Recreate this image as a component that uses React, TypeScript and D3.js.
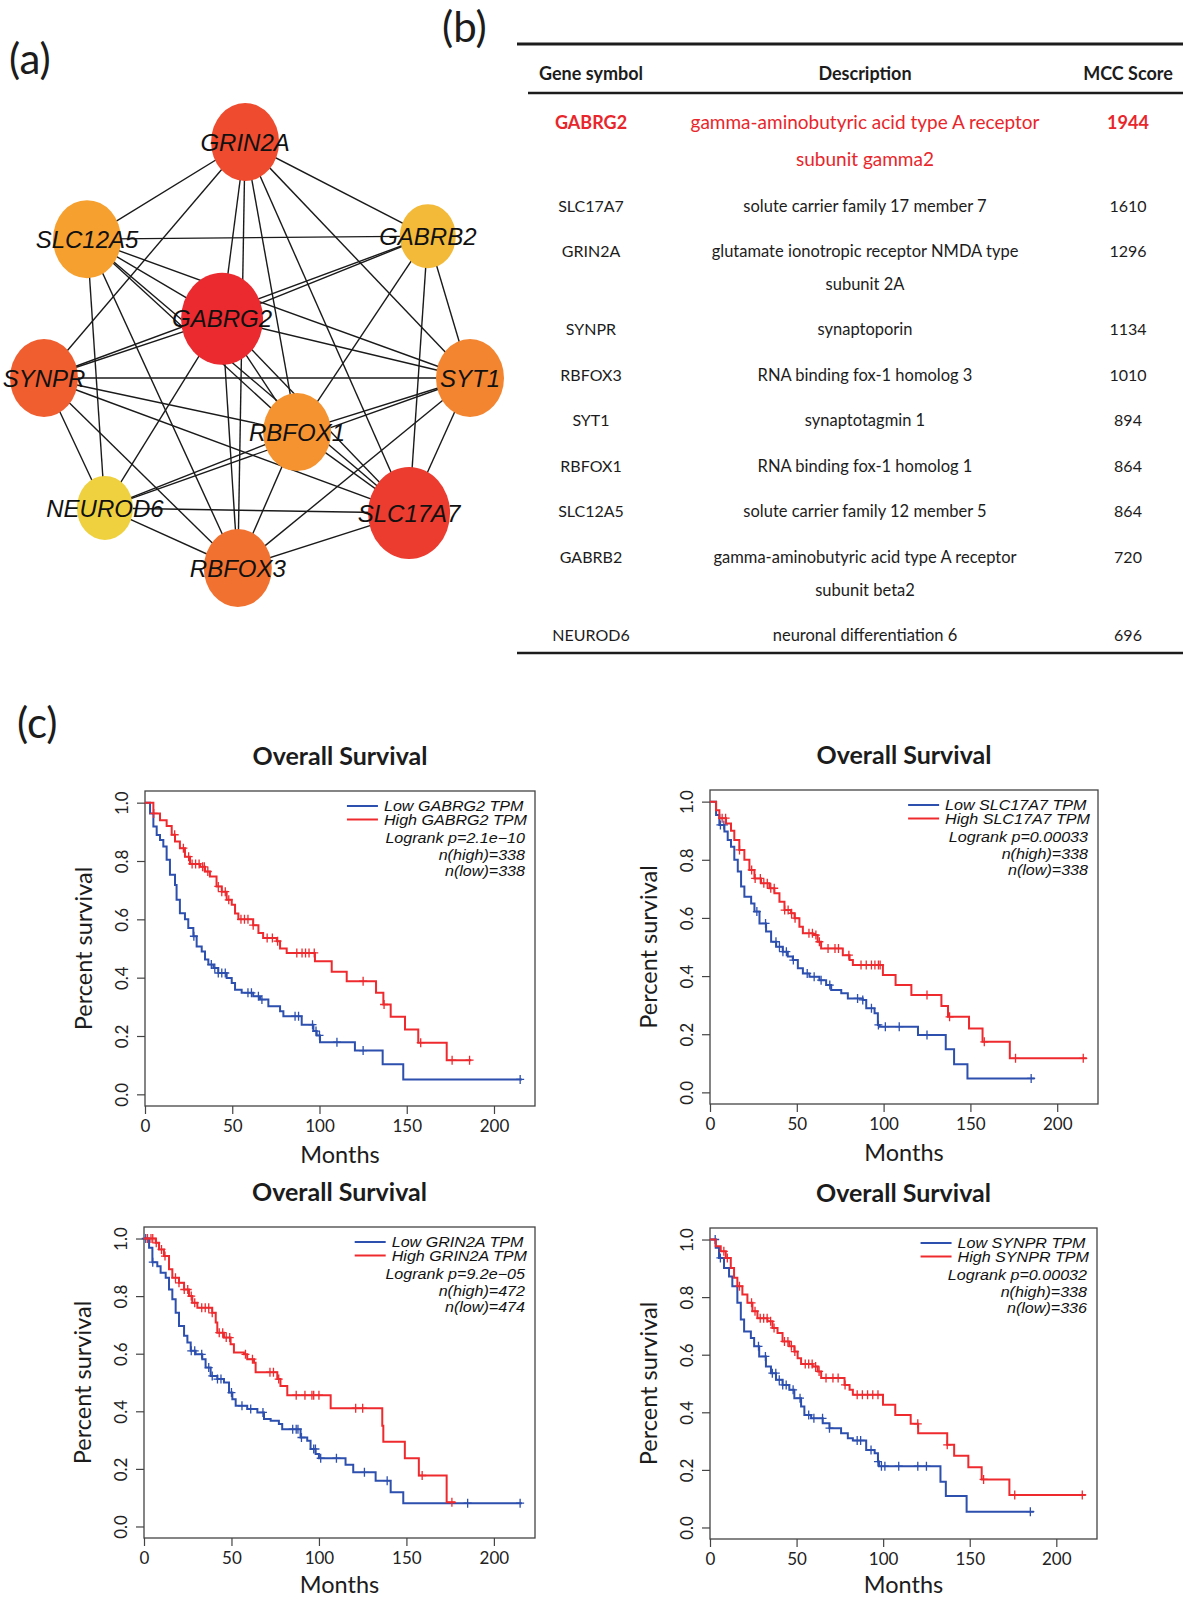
import React, { useEffect, useRef } from "react";
import * as d3 from "d3";

type Step = [number, number];

// ---- (a)/(b) hub genes ----
const GENES = ["GABRG2", "SLC17A7", "GRIN2A", "SYNPR", "RBFOX3", "SYT1", "RBFOX1", "SLC12A5", "GABRB2", "NEUROD6"];
const MCC_SCORES = [1944, 1610, 1296, 1134, 1010, 894, 864, 864, 720, 696];
const DESCRIPTIONS = [
  ["gamma-aminobutyric acid type A receptor", "subunit gamma2"],
  ["solute carrier family 17 member 7"],
  ["glutamate ionotropic receptor NMDA type", "subunit 2A"],
  ["synaptoporin"],
  ["RNA binding fox-1 homolog 3"],
  ["synaptotagmin 1"],
  ["RNA binding fox-1 homolog 1"],
  ["solute carrier family 12 member 5"],
  ["gamma-aminobutyric acid type A receptor", "subunit beta2"],
  ["neuronal differentiation 6"],
];
const TABLE_HEADERS = ["Gene symbol", "Description", "MCC Score"];

const EDGES: [string, string][] = [
  ["GRIN2A", "SLC12A5"], ["GRIN2A", "GABRB2"], ["GRIN2A", "SYNPR"], ["GRIN2A", "GABRG2"],
  ["GRIN2A", "RBFOX3"], ["GRIN2A", "RBFOX1"], ["GRIN2A", "SLC17A7"], ["GRIN2A", "SYT1"],
  ["SLC12A5", "GABRB2"], ["SLC12A5", "GABRG2"], ["SLC12A5", "SYT1"], ["SLC12A5", "RBFOX1"],
  ["SLC12A5", "SLC17A7"], ["SLC12A5", "NEUROD6"], ["SLC12A5", "RBFOX3"],
  ["GABRB2", "GABRG2"], ["GABRB2", "SYNPR"], ["GABRB2", "RBFOX1"], ["GABRB2", "SLC17A7"], ["GABRB2", "SYT1"],
  ["GABRG2", "SYNPR"], ["GABRG2", "SYT1"], ["GABRG2", "NEUROD6"], ["GABRG2", "RBFOX3"],
  ["GABRG2", "RBFOX1"], ["GABRG2", "SLC17A7"],
  ["SYNPR", "SYT1"], ["SYNPR", "RBFOX1"], ["SYNPR", "SLC17A7"], ["SYNPR", "NEUROD6"], ["SYNPR", "RBFOX3"],
  ["RBFOX1", "SYT1"], ["RBFOX1", "NEUROD6"], ["RBFOX1", "SLC17A7"], ["RBFOX1", "RBFOX3"],
  ["SYT1", "RBFOX3"], ["SYT1", "SLC17A7"], ["SYT1", "NEUROD6"],
  ["NEUROD6", "SLC17A7"], ["NEUROD6", "RBFOX3"], ["SLC17A7", "RBFOX3"],
];

// network layout in unit space
const NODE_LAYOUT: Record<string, [number, number]> = {
  GRIN2A: [0.472, 0], SLC12A5: [0.101, 0.228], GABRB2: [0.901, 0.221], GABRG2: [0.418, 0.415],
  SYNPR: [0, 0.554], SYT1: [1, 0.554], RBFOX1: [0.594, 0.681], NEUROD6: [0.143, 0.859],
  SLC17A7: [0.857, 0.871], RBFOX3: [0.455, 1],
};

// ---- (c) Kaplan-Meier curves: [months, survival] ----
const gabrg2Low: Step[] = [[0, 1], [2.9, 0.963], [4.8, 0.918], [6.7, 0.889], [8.6, 0.872], [10.5, 0.85], [12.4, 0.804], [14.3, 0.753], [17.2, 0.718], [18.1, 0.667], [20, 0.621], [22.9, 0.6], [24.8, 0.57], [27.7, 0.542], [29.6, 0.507], [32.5, 0.49], [34.4, 0.462], [36.3, 0.445], [39.2, 0.433], [42, 0.416], [46.8, 0.399], [49.7, 0.382], [51.6, 0.359], [55.4, 0.348], [62, 0.336], [65.9, 0.325], [70.7, 0.302], [77.4, 0.285], [79.3, 0.268], [89.8, 0.239], [96.5, 0.217], [98.4, 0.202], [100.3, 0.179], [120.3, 0.15], [136.2, 0.103], [148, 0.051], [216, 0.051]];
const gabrg2High: Step[] = [[0, 1], [4.8, 0.963], [8.6, 0.94], [12.4, 0.92], [15.3, 0.89], [17.2, 0.867], [20, 0.844], [22.9, 0.815], [25.8, 0.79], [31.5, 0.78], [34.4, 0.764], [37.2, 0.747], [41, 0.713], [44, 0.695], [46.8, 0.667], [49.7, 0.65], [51.6, 0.62], [53.5, 0.6], [62, 0.58], [65, 0.553], [67.7, 0.536], [75.5, 0.525], [77.4, 0.5], [81.2, 0.485], [97.4, 0.456], [107, 0.42], [115.6, 0.388], [132.4, 0.348], [136.6, 0.308], [140.8, 0.266], [149, 0.222], [156.6, 0.177], [172.9, 0.117], [187, 0.117]];
const gabrg2LowCens = [28, 38, 40, 42, 44, 46, 59, 61, 65, 67, 86, 88, 96, 98, 100, 110, 125, 215];
const gabrg2HighCens = [5, 17, 22, 25, 27, 29, 31, 33, 34, 36, 42, 44, 46, 48, 55, 57, 59, 62, 70, 73, 76, 87, 90, 92, 94, 97, 125, 137, 158, 176, 186];

const slc17a7Low: Step[] = [[0, 1], [3.5, 0.954], [5.4, 0.92], [8.3, 0.897], [10.2, 0.868], [12.1, 0.845], [14, 0.8], [16, 0.76], [17.9, 0.708], [19.8, 0.673], [23.7, 0.65], [25.6, 0.622], [28.5, 0.581], [32.3, 0.553], [35.2, 0.518], [38.1, 0.501], [41.9, 0.484], [44.8, 0.467], [47.7, 0.455], [50.6, 0.427], [53.5, 0.409], [57.3, 0.398], [63, 0.386], [66.9, 0.369], [69.8, 0.352], [75.6, 0.341], [79.4, 0.323], [88, 0.318], [90, 0.289], [94.8, 0.272], [96.7, 0.232], [97.7, 0.226], [119.8, 0.197], [135.8, 0.148], [140.6, 0.097], [148.3, 0.048], [187, 0.048]];
const slc17a7High: Step[] = [[0, 1], [3.5, 0.97], [5.4, 0.943], [9.2, 0.925], [12.1, 0.9], [14, 0.868], [16.9, 0.834], [19.8, 0.8], [22.7, 0.765], [25.6, 0.736], [29.4, 0.719], [34.2, 0.702], [37.1, 0.685], [40, 0.656], [42.9, 0.627], [46.7, 0.616], [48.7, 0.599], [51.5, 0.57], [53.5, 0.547], [59.2, 0.541], [62, 0.518], [64, 0.495], [76.5, 0.472], [80.4, 0.455], [82.3, 0.438], [99.6, 0.404], [106.9, 0.369], [116, 0.335], [133.3, 0.297], [137.1, 0.26], [149.2, 0.22], [157, 0.174], [172.7, 0.117], [217, 0.117]];
const slc17a7LowCens = [6, 8, 27, 32, 38, 40, 42, 44, 48, 56, 60, 64, 69, 85, 88, 93, 97, 101, 109, 125, 185];
const slc17a7HighCens = [7, 9, 17, 24, 26, 29, 31, 33, 35, 37, 43, 45, 47, 49, 57, 59, 61, 63, 68, 72, 74, 80, 87, 90, 93, 95, 97, 98, 125, 138, 158, 176, 215];

const grin2aLow: Step[] = [[0, 1], [2.9, 0.968], [4.8, 0.918], [7.6, 0.904], [9.5, 0.881], [12.4, 0.864], [14.3, 0.823], [16.2, 0.789], [18.1, 0.742], [20, 0.696], [22.9, 0.662], [24.8, 0.639], [26.7, 0.61], [29.5, 0.598], [33.3, 0.581], [35.2, 0.552], [38.1, 0.523], [41.9, 0.512], [45.7, 0.5], [48.6, 0.465], [50.5, 0.442], [52.4, 0.419], [59, 0.408], [64.8, 0.396], [68.6, 0.373], [72.4, 0.367], [77.1, 0.356], [79, 0.338], [89.5, 0.309], [93.3, 0.298], [95.2, 0.269], [98.1, 0.252], [100, 0.237], [115.2, 0.214], [119.6, 0.188], [132.4, 0.159], [141, 0.119], [148.2, 0.081], [216, 0.081]];
const grin2aHigh: Step[] = [[0, 1], [6.7, 0.985], [8.6, 0.962], [11.4, 0.939], [14.3, 0.893], [16.2, 0.864], [20, 0.846], [22.9, 0.823], [25.7, 0.8], [27.6, 0.777], [30.5, 0.76], [39, 0.742], [41, 0.708], [41.9, 0.673], [45.7, 0.656], [49.5, 0.633], [51.4, 0.604], [57.1, 0.598], [59, 0.581], [62.9, 0.569], [63.8, 0.536], [76.2, 0.512], [78, 0.488], [81.9, 0.456], [106.7, 0.411], [136.2, 0.35], [136.8, 0.294], [149.1, 0.237], [157.1, 0.177], [173, 0.084], [178, 0.084]];
const grin2aLowCens = [1, 5, 27, 29, 33, 37, 39, 42, 44, 50, 56, 61, 68, 85, 87, 88, 90, 97, 98, 101, 110, 126, 139, 185, 215];
const grin2aHighCens = [2, 4, 5, 7, 10, 12, 18, 20, 23, 25, 27, 29, 33, 35, 37, 39, 43, 45, 47, 49, 58, 62, 72, 74, 77, 87, 92, 96, 97, 100, 121, 125, 159, 176];

const synprLow: Step[] = [[0, 1], [3.3, 0.971], [5.2, 0.936], [8.1, 0.901], [11, 0.872], [12.9, 0.838], [15.8, 0.78], [17.8, 0.722], [19.7, 0.681], [23.6, 0.658], [25.5, 0.629], [28.4, 0.594], [32.3, 0.559], [35.2, 0.536], [38.1, 0.513], [41.9, 0.495], [45.8, 0.478], [48.7, 0.449], [52.6, 0.42], [54.5, 0.391], [58.4, 0.379], [65.1, 0.362], [69, 0.345], [75.7, 0.327], [79.6, 0.31], [82.5, 0.302], [90.2, 0.269], [95.1, 0.258], [97, 0.229], [97.6, 0.213], [133.1, 0.159], [136.2, 0.109], [148.2, 0.055], [187, 0.055]];
const synprHigh: Step[] = [[0, 1], [3.3, 0.977], [6.2, 0.959], [9.1, 0.936], [12, 0.901], [13.9, 0.867], [15.8, 0.838], [18.7, 0.809], [21.6, 0.78], [24.5, 0.751], [27.4, 0.727], [33.2, 0.716], [36.1, 0.693], [39, 0.675], [41.9, 0.646], [45.8, 0.629], [48.7, 0.611], [50.6, 0.588], [52.6, 0.568], [59.3, 0.559], [62.2, 0.542], [64.2, 0.519], [77.7, 0.495], [80.6, 0.478], [82.5, 0.461], [99.9, 0.426], [107, 0.391], [115.9, 0.36], [120.2, 0.327], [137, 0.287], [141, 0.249], [149.2, 0.209], [156.9, 0.167], [172.9, 0.113], [217, 0.113]];
const synprLowCens = [3, 6, 28, 32, 36, 38, 40, 42, 44, 48, 52, 57, 60, 65, 69, 85, 87, 93, 97, 99, 101, 109, 120, 125, 185];
const synprHighCens = [8, 10, 17, 24, 26, 29, 31, 33, 35, 37, 43, 45, 47, 49, 55, 57, 59, 61, 63, 67, 71, 74, 78, 85, 88, 91, 94, 97, 120, 137, 158, 176, 215];

const KM_GENES = ["GABRG2", "SLC17A7", "GRIN2A", "SYNPR"];
const KM_PVALUES = ["2.1e\u221210", "0.00033", "9.2e\u221205", "0.00032"];
const KM_N_HIGH = [338, 338, 472, 338];
const KM_N_LOW = [338, 338, 474, 336];
const X_TICKS = [0, 50, 100, 150, 200];
const Y_TICKS = [0, 0.2, 0.4, 0.6, 0.8, 1.0];

const KM = [
  { low: gabrg2Low, high: gabrg2High, lowCens: gabrg2LowCens, highCens: gabrg2HighCens },
  { low: slc17a7Low, high: slc17a7High, lowCens: slc17a7LowCens, highCens: slc17a7HighCens },
  { low: grin2aLow, high: grin2aHigh, lowCens: grin2aLowCens, highCens: grin2aHighCens },
  { low: synprLow, high: synprHigh, lowCens: synprLowCens, highCens: synprHighCens },
];
const KM_BOXES = [
  { left: 145, top: 791, w: 390, h: 315 },
  { left: 710, top: 790, w: 388, h: 314 },
  { left: 144, top: 1227, w: 391, h: 311 },
  { left: 710, top: 1228, w: 387, h: 311 },
];

const LATO = "Lato, 'Open Sans', sans-serif";
const ARIAL = "'Liberation Sans', Arial, sans-serif";
const BLUE = "#2d4fae";
const RED = "#ee2a2e";
const INK = "#1c1c1c";
const LEG_STRETCH = 1.15;

function drawNetwork(g: any) {
  const x = d3.scaleLinear().domain([0, 1]).range([44, 470]);
  const y = d3.scaleLinear().domain([0, 1]).range([142, 568]);
  const rank = new Map(GENES.map((gname, i) => [gname, i]));
  const color = d3.scaleLinear<string>()
    .domain([0, 2, 5, 7, 9])
    .range(["#ea2a2e", "#ee4b2f", "#f38531", "#f6a030", "#efd13f"]);
  const rx = d3.scaleThreshold<number, number>().domain([800, 1500]).range([28, 34, 41]);
  const ry = d3.scaleThreshold<number, number>().domain([800, 1500]).range([32, 39, 46]);

  g.selectAll("line.edge").data(EDGES).enter().append("line")
    .attr("x1", (d: [string, string]) => x(NODE_LAYOUT[d[0]][0]))
    .attr("y1", (d: [string, string]) => y(NODE_LAYOUT[d[0]][1]))
    .attr("x2", (d: [string, string]) => x(NODE_LAYOUT[d[1]][0]))
    .attr("y2", (d: [string, string]) => y(NODE_LAYOUT[d[1]][1]))
    .attr("stroke", "#1a1a1a").attr("stroke-width", 1.4);

  const nodes = g.selectAll("g.node").data(GENES).enter().append("g")
    .attr("transform", (d: string) => `translate(${x(NODE_LAYOUT[d][0])},${y(NODE_LAYOUT[d][1])})`);
  nodes.append("ellipse")
    .attr("rx", (d: string) => rx(MCC_SCORES[rank.get(d)!]))
    .attr("ry", (d: string) => ry(MCC_SCORES[rank.get(d)!]))
    .attr("fill", (d: string) => color(rank.get(d)!));
  nodes.append("text")
    .attr("text-anchor", "middle").attr("dy", "0.36em")
    .attr("font-family", ARIAL).attr("font-style", "italic").attr("font-size", 24)
    .attr("fill", "#111").text((d: string) => d);
}

function drawTable(g: any) {
  const colX = [591, 865, 1128];
  g.append("line").attr("x1", 517).attr("x2", 1183).attr("y1", 44).attr("y2", 44)
    .attr("stroke", INK).attr("stroke-width", 3);
  g.append("line").attr("x1", 528).attr("x2", 1183).attr("y1", 93).attr("y2", 93)
    .attr("stroke", INK).attr("stroke-width", 2.5);
  TABLE_HEADERS.forEach((h, i) => {
    g.append("text").attr("x", colX[i]).attr("y", 73.5).attr("dy", "0.35em")
      .attr("text-anchor", "middle").attr("font-family", LATO).attr("font-weight", 700)
      .attr("font-size", 18).attr("fill", INK).text(h);
  });
  let yy = 122.5;
  GENES.forEach((gene, i) => {
    const top = i === 0;
    const fs = top ? 19 : 16.5;
    const fill = top ? "#e8262b" : INK;
    const lh = top ? 36.6 : 32.6;
    const cell = (x: number, txt: string, yv: number, bold: boolean, size: number) =>
      g.append("text").attr("x", x).attr("y", yv).attr("dy", "0.35em").attr("text-anchor", "middle")
        .attr("font-family", LATO).attr("font-weight", bold ? 700 : 400)
        .attr("font-size", size).attr("fill", fill).text(txt);
    cell(colX[0], gene, yy, top, top ? 18 : 16);
    DESCRIPTIONS[i].forEach((line, j) => cell(colX[1], line, yy + j * lh, false, fs));
    cell(colX[2], String(MCC_SCORES[i]), yy, top, top ? 18 : 16);
    yy += (DESCRIPTIONS[i].length - 1) * lh + (top ? 47 : 45.5);
  });
  g.append("line").attr("x1", 517).attr("x2", 1183).attr("y1", 653).attr("y2", 653)
    .attr("stroke", INK).attr("stroke-width", 2.5);
}

function drawKM(g: any, idx: number) {
  const { left, top, w, h } = KM_BOXES[idx];
  const d = KM[idx];
  const gene = KM_GENES[idx];
  const x = d3.scaleLinear().domain([0, 223.5]).range([left, left + w]);
  const y = d3.scaleLinear().domain([-0.04, 1.04]).range([top + h, top]);

  g.append("text").attr("x", left + w / 2).attr("y", top - 26).attr("text-anchor", "middle")
    .attr("font-family", LATO).attr("font-weight", 700).attr("font-size", 25).attr("fill", INK)
    .text("Overall Survival");

  const xa = g.append("g").attr("transform", `translate(0,${top + h})`)
    .call(d3.axisBottom(x).tickValues(X_TICKS).tickSize(8).tickPadding(6).tickSizeOuter(0));
  const ya = g.append("g").attr("transform", `translate(${left},0)`)
    .call(d3.axisLeft(y).tickValues(Y_TICKS).tickSize(8).tickSizeOuter(0).tickFormat(d3.format(".1f")));
  [xa, ya].forEach((a) => {
    a.select(".domain").remove();
    a.selectAll(".tick line").attr("stroke", "#444").attr("stroke-width", 1.2);
    a.selectAll(".tick text").attr("font-family", LATO).attr("font-size", 17).attr("fill", "#222");
  });
  ya.selectAll(".tick text").attr("x", 0).attr("dy", 0).attr("text-anchor", "middle")
    .attr("transform", "translate(-17,0) rotate(-90)");

  g.append("rect").attr("x", left).attr("y", top).attr("width", w).attr("height", h)
    .attr("fill", "none").attr("stroke", "#444").attr("stroke-width", 1.3);

  g.append("text").attr("transform", `translate(${left - 53},${top + h / 2}) rotate(-90)`)
    .attr("text-anchor", "middle").attr("font-family", LATO).attr("font-size", 23.5).attr("fill", INK)
    .text("Percent survival");
  // the bottom row's axis title runs into the page edge, as in the original
  g.append("text").attr("x", left + w / 2).attr("y", Math.min(top + h + 57, 1593)).attr("text-anchor", "middle")
    .attr("font-family", LATO).attr("font-size", 23.5).attr("fill", INK).text("Months");

  const line = d3.line<Step>().x((p) => x(p[0])).y((p) => y(p[1])).curve(d3.curveStepAfter);
  const bis = d3.bisector((p: Step) => p[0]).right;
  const curves: [Step[], number[], string][] = [[d.low, d.lowCens, BLUE], [d.high, d.highCens, RED]];
  curves.forEach(([steps, cens, col]) => {
    g.append("path").attr("d", line(steps)).attr("fill", "none").attr("stroke", col)
      .attr("stroke-width", 2).attr("stroke-linejoin", "miter");
    g.append("path").attr("fill", "none").attr("stroke", col).attr("stroke-width", 1.3)
      .attr("d", cens.map((t) => {
        const s = steps[Math.max(0, bis(steps, t) - 1)][1];
        const cx = x(t), cy = y(s);
        return `M${cx - 4},${cy}H${cx + 4}M${cx},${cy - 4.5}V${cy + 4.5}`;
      }).join(""));
  });

  // legend (R text is horizontally stretched)
  const R = left + w - 8;
  const lg = g.append("g").attr("font-family", ARIAL).attr("font-style", "italic")
    .attr("font-size", 14).attr("fill", "#111");
  const legText = (txt: string, xx: number, yy: number, anchor: string) =>
    lg.append("text").attr("transform", `translate(${xx},${yy}) scale(${LEG_STRETCH},1)`)
      .attr("text-anchor", anchor).text(txt);
  const hi = legText(`High ${gene} TPM`, R, top + 33.5, "end");
  const wHi = (hi.node() as SVGTextElement).getComputedTextLength() * LEG_STRETCH;
  const xs = R - wHi;
  legText(`Low ${gene} TPM`, xs, top + 20, "start");
  lg.append("line").attr("x1", xs - 37).attr("x2", xs - 6).attr("y1", top + 15).attr("y2", top + 15)
    .attr("stroke", BLUE).attr("stroke-width", 2);
  lg.append("line").attr("x1", xs - 37).attr("x2", xs - 6).attr("y1", top + 28.5).attr("y2", top + 28.5)
    .attr("stroke", RED).attr("stroke-width", 2);
  const stats = [`Logrank p=${KM_PVALUES[idx]}`, `n(high)=${KM_N_HIGH[idx]}`, `n(low)=${KM_N_LOW[idx]}`];
  const sy = [51.5, 68.5, 84.5];
  stats.forEach((s, i) => legText(s, left + w - 10, top + sy[i], "end"));
}

export default function App() {
  const ref = useRef<SVGSVGElement>(null);
  useEffect(() => {
    const svg = d3.select(ref.current);
    svg.selectAll("*").remove();
    svg.append("rect").attr("width", 1183).attr("height", 1599).attr("fill", "#fff");
    drawNetwork(svg.append("g"));
    drawTable(svg.append("g"));
    KM.forEach((_, i) => drawKM(svg.append("g"), i));
    const letters: [string, number, number][] = [["(a)", 9, 74], ["(b)", 442, 42], ["(c)", 17, 738]];
    svg.selectAll("text.panel").data(letters).enter().append("text")
      .attr("x", (d: [string, number, number]) => d[1]).attr("y", (d: [string, number, number]) => d[2])
      .attr("font-family", LATO).attr("font-weight", 400).attr("font-size", 42).attr("fill", INK)
      .text((d: [string, number, number]) => d[0]);
  }, []);
  return (
    <svg ref={ref} width={1183} height={1599}
      style={{ position: "absolute", left: 0, top: 0, display: "block" }} />
  );
}
